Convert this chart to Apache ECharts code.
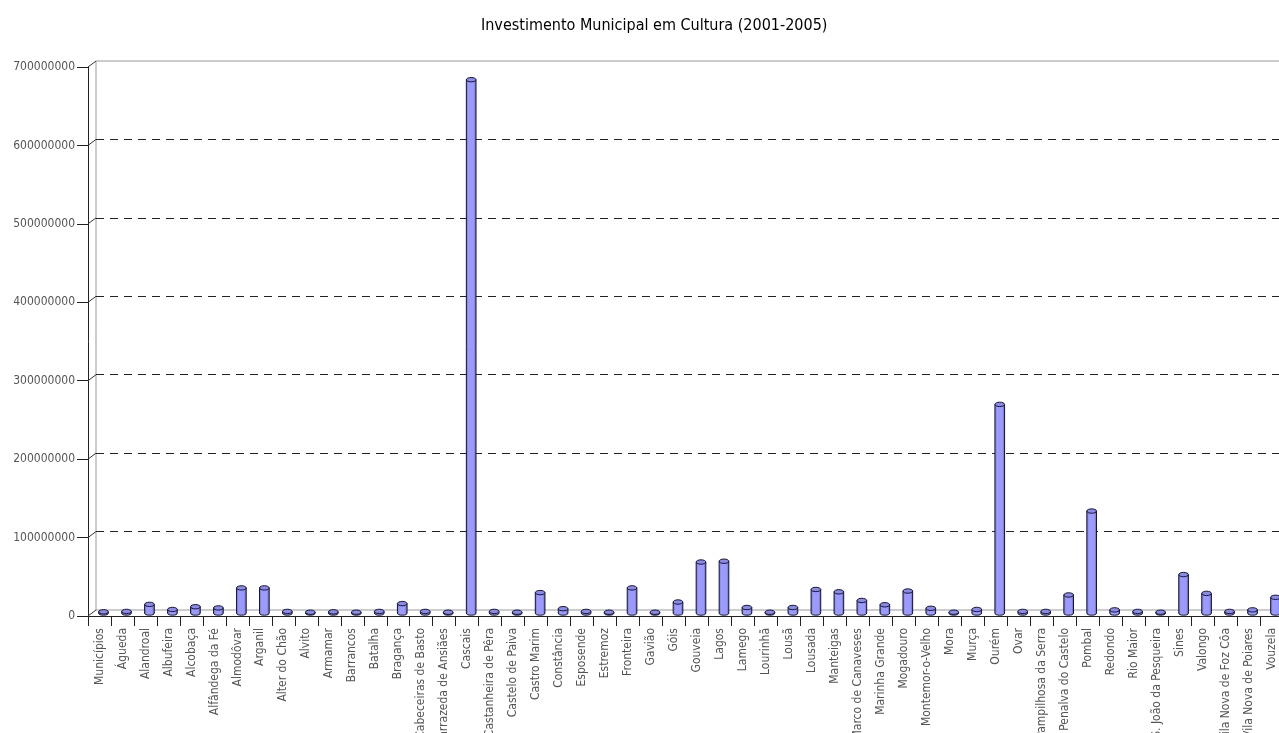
<!DOCTYPE html>
<html>
<head>
<meta charset="utf-8">
<script src="https://cdn.jsdelivr.net/npm/echarts/dist/echarts.min.js"></script>
<style>
html,body{margin:0;padding:0;background:#fff;}
#chart{width:1279px;height:733px;}
</style>
</head>
<body>
<div id="chart"></div>
<script>
const titleText = 'Investimento Municipal em Cultura (2001-2005)';

const categories = [
  'Municípios','Águeda','Alandroal','Albufeira','Alcobaça','Alfândega da Fé','Almodôvar','Arganil',
  'Alter do Chão','Alvito','Armamar','Barrancos','Batalha','Bragança','Cabeceiras de Basto',
  'Carrazeda de Ansiães','Cascais','Castanheira de Pêra','Castelo de Paiva','Castro Marim',
  'Constância','Esposende','Estremoz','Fronteira','Gavião','Góis','Gouveia','Lagos','Lamego',
  'Lourinhã','Lousã','Lousada','Manteigas','Marco de Canaveses','Marinha Grande','Mogadouro',
  'Montemor-o-Velho','Mora','Murça','Ourém','Ovar','Pampilhosa da Serra','Penalva do Castelo',
  'Pombal','Redondo','Rio Maior','S. João da Pesqueira','Sines','Valongo','Vila Nova de Foz Côa',
  'Vila Nova de Poiares','Vouzela'
];

const investment = [
  1500000, 2000000, 11000000, 4500000, 8000000, 6500000, 32000000, 32000000,
  2000000, 1000000, 1500000, 1000000, 2000000, 12000000, 2000000,
  1000000, 680000000, 2000000, 1000000, 26000000,
  5500000, 2000000, 1000000, 32000000, 1000000, 14000000, 65000000, 66000000, 7000000,
  1000000, 7000000, 30000000, 27000000, 16000000, 10500000, 28000000,
  6000000, 1000000, 4500000, 266000000, 2000000, 2000000, 23000000,
  130000000, 4000000, 2000000, 1000000, 49000000, 25000000, 2000000,
  4000000, 20000000
];

const yTicks = [0, 100000000, 200000000, 300000000, 400000000, 500000000, 600000000, 700000000];
const yMin = 0, yMax = 700000000, yStep = 100000000;

const FONT = "'DejaVu Sans Condensed', 'Liberation Sans Narrow', 'DejaVu Sans', sans-serif";
const DEPTH_X = 8, DEPTH_Y = -6;

const chart = echarts.init(document.getElementById('chart'), null, {renderer: 'canvas'});

const bodyFill = {
  type: 'linear', x: 0, y: 0, x2: 1, y2: 0,
  colorStops: [
    {offset: 0, color: '#6c6cd0'},
    {offset: 0.25, color: '#9c9cff'},
    {offset: 0.75, color: '#9999ff'},
    {offset: 1, color: '#5a5ab4'}
  ]
};

function renderCylinder(params, api) {
  const idx = api.value(0);
  const v = api.value(1);
  const top = api.coord([idx, v]);
  const base = api.coord([idx, 0]);
  const band = api.size([1, 0])[0];
  const rx = band * 0.21;
  const ry = 2.2;
  const cx = top[0] + DEPTH_X / 2;
  const ty = top[1] + DEPTH_Y / 2;
  const by = base[1] + DEPTH_Y / 2;
  const x1 = cx - rx, x2 = cx + rx;
  const path = 'M' + x1 + ' ' + ty + ' L' + x1 + ' ' + by +
    ' A' + rx + ' ' + ry + ' 0 0 0 ' + x2 + ' ' + by +
    ' L' + x2 + ' ' + ty + ' Z';
  return {
    type: 'group',
    children: [
      {type: 'path', shape: {pathData: path}, style: {fill: bodyFill, stroke: '#15152a', lineWidth: 1}},
      {type: 'ellipse', shape: {cx: cx, cy: ty, rx: rx, ry: ry}, style: {fill: '#8a8aee', stroke: '#15152a', lineWidth: 1}}
    ]
  };
}

function renderDepth(params, api) {
  const v = api.value(1);
  const p = api.coord([0, v]);
  const half = api.size([1, 0])[0] / 2;
  const x0 = p[0] - half;
  return {
    type: 'line',
    shape: {x1: x0, y1: p[1], x2: x0 + DEPTH_X, y2: p[1] + DEPTH_Y},
    style: {stroke: '#333', lineWidth: 1}
  };
}

const gridLeft = 88, gridTop = 67, gridW = 1195, gridH = 549;

const option = {
  backgroundColor: '#ffffff',
  animation: false,
  textStyle: {fontFamily: FONT},
  title: {
    text: titleText,
    left: 476, top: 13,
    textStyle: {fontFamily: FONT, fontSize: 16, fontWeight: 'normal', color: '#000'}
  },
  grid: [
    {left: gridLeft + DEPTH_X, top: gridTop + DEPTH_Y, width: gridW, height: gridH,
     outerBoundsMode: 'none', containLabel: false,
     show: true, borderColor: '#9a9a9a', borderWidth: 1, backgroundColor: 'transparent'},
    {left: gridLeft, top: gridTop, width: gridW, height: gridH,
     outerBoundsMode: 'none', containLabel: false}
  ],
  xAxis: [
    {type: 'category', gridIndex: 0, data: categories,
     axisLine: {show: false}, axisTick: {show: false}, axisLabel: {show: false}, splitLine: {show: false}},
    {type: 'category', gridIndex: 1, data: categories,
     axisLine: {show: true, lineStyle: {color: '#222', width: 1}},
     axisTick: {show: true, length: 10, lineStyle: {color: '#222'}},
     axisLabel: {interval: 0, rotate: 90, margin: 12, fontSize: 12, color: '#555', fontFamily: FONT},
     splitLine: {show: false}}
  ],
  yAxis: [
    {type: 'value', gridIndex: 0, min: yMin, max: yMax, interval: yStep,
     axisLine: {show: false}, axisTick: {show: false}, axisLabel: {show: false},
     splitLine: {show: true, showMinLine: false, showMaxLine: false,
       lineStyle: {color: '#222', type: [8, 6], width: 1}}},
    {type: 'value', gridIndex: 1, min: yMin, max: yMax, interval: yStep,
     axisLine: {show: true, lineStyle: {color: '#222', width: 1}},
     axisTick: {show: true, length: 11, lineStyle: {color: '#222'}},
     axisLabel: {margin: 13, fontSize: 12, color: '#555', fontFamily: FONT,
       formatter: function (v) { return String(v); }},
     splitLine: {show: false}}
  ],
  series: [
    {type: 'custom', name: 'depth', xAxisIndex: 1, yAxisIndex: 1, silent: true,
     data: yTicks.map(function (v) { return [0, v]; }), renderItem: renderDepth, z: 3},
    {type: 'custom', name: 'Investimento', xAxisIndex: 1, yAxisIndex: 1,
     data: investment.map(function (v, i) { return [i, v]; }), renderItem: renderCylinder, z: 4}
  ]
};

chart.setOption(option);
</script>
</body>
</html>
